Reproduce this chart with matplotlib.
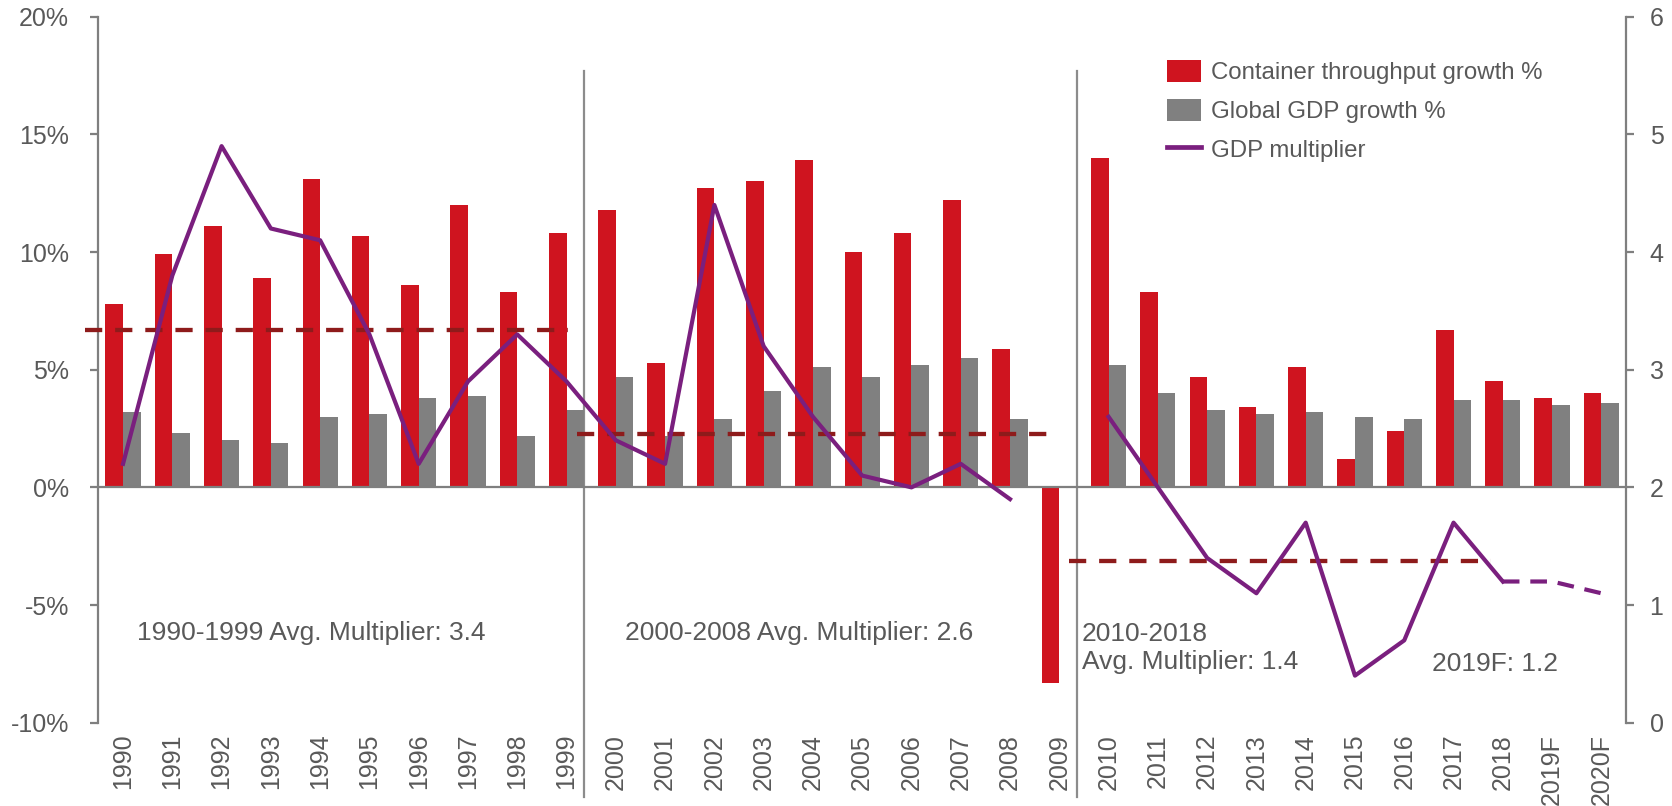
import numpy as np
import matplotlib
matplotlib.use("Agg")
import matplotlib.pyplot as plt
from matplotlib.patches import Patch
from matplotlib.lines import Line2D

plt.rcParams['font.family'] = ['Liberation Sans', 'DejaVu Sans']

years = ['1990', '1991', '1992', '1993', '1994', '1995', '1996', '1997', '1998', '1999',
         '2000', '2001', '2002', '2003', '2004', '2005', '2006', '2007', '2008', '2009',
         '2010', '2011', '2012', '2013', '2014', '2015', '2016', '2017', '2018', '2019F', '2020F']
container_growth = [7.8, 9.9, 11.1, 8.9, 13.1, 10.7, 8.6, 12.0, 8.3, 10.8,
                    11.8, 5.3, 12.7, 13.0, 13.9, 10.0, 10.8, 12.2, 5.9, -8.3,
                    14.0, 8.3, 4.7, 3.4, 5.1, 1.2, 2.4, 6.7, 4.5, 3.8, 4.0]
gdp_growth = [3.2, 2.3, 2.0, 1.9, 3.0, 3.1, 3.8, 3.9, 2.2, 3.3,
              4.7, 2.2, 2.9, 4.1, 5.1, 4.7, 5.2, 5.5, 2.9, 0.0,
              5.2, 4.0, 3.3, 3.1, 3.2, 3.0, 2.9, 3.7, 3.7, 3.5, 3.6]
multiplier = [2.2, 3.8, 4.9, 4.2, 4.1, 3.3, 2.2, 2.9, 3.3, 2.9,
              2.4, 2.2, 4.4, 3.2, 2.6, 2.1, 2.0, 2.2, 1.9, np.nan,
              2.6, 2.0, 1.4, 1.1, 1.7, 0.4, 0.7, 1.7, 1.2, 1.2, 1.1]
avg_multiplier = [3.34, 2.45, 1.37]
period_labels = ['1990-1999 Avg. Multiplier: 3.4', '2000-2008 Avg. Multiplier: 2.6',
                 '2010-2018\nAvg. Multiplier: 1.4', '2019F: 1.2']
legend_labels = ['Container throughput growth %', 'Global GDP growth %', 'GDP multiplier']

RED = '#CF141F'
GRAY = '#808080'
PURPLE = '#7A1F7E'
DARKRED = '#8E1B1B'
TXT = '#595959'
AX = '#7F7F7F'

W, H = 1672, 806
fig = plt.figure(figsize=(W / 100, H / 100), dpi=100)
ax = fig.add_axes([98.4 / W, 1 - 722.7 / H, (1626 - 98.4) / W, (722.7 - 16.7) / H])
ax2 = ax.twinx()

x = np.arange(len(years))
bw = 0.357
ax.bar(x - bw / 2, container_growth, width=bw, color=RED, zorder=2)
ax.bar(x + bw / 2, gdp_growth, width=bw, color=GRAY, zorder=2)

ax.set_xlim(-0.5, len(years) - 0.5)
ax.set_ylim(-10, 20)
ax.set_yticks([-10, -5, 0, 5, 10, 15, 20])
ax.set_yticklabels(['-10%', '-5%', '0%', '5%', '10%', '15%', '20%'])
ax.axhline(0, color=AX, lw=1.6, zorder=3)

ax.set_xticks(x)
ax.set_xticklabels(years, rotation=90, fontsize=18, color=TXT)
ax.tick_params(axis='x', length=0, pad=8)
ax.tick_params(axis='y', length=6, width=1.6, color=AX, labelsize=18, labelcolor=TXT, pad=15)

for s in ['top', 'bottom', 'right']:
    ax.spines[s].set_visible(False)
ax.spines['left'].set_color(AX)
ax.spines['left'].set_linewidth(1.6)

# separators
for sx in [9 + bw, 19 + bw]:
    ax.plot([sx, sx], [17.7, -13.15], color='#8C8C8C', lw=1.6, clip_on=False, zorder=1)

# secondary axis
ax2.set_ylim(0, 6)
ax2.set_yticks(range(0, 7))
ax2.tick_params(axis='y', length=6, width=1.6, color=AX, labelsize=18, labelcolor=TXT, pad=11)
for s in ['top', 'bottom', 'left']:
    ax2.spines[s].set_visible(False)
ax2.spines['right'].set_color(AX)
ax2.spines['right'].set_linewidth(1.6)

# average dashed lines
avg_spans = [(-0.77, 9.02), (9.21, 18.87), (19.19, 27.77)]
for (x0, x1), v in zip(avg_spans, avg_multiplier):
    ax2.plot([x0, x1], [v, v], color=DARKRED, lw=3.1, dashes=(4.0, 3.0), clip_on=False, zorder=4)

# multiplier line
m = np.array(multiplier)
ax2.plot(x[:29], m[:29], color=PURPLE, lw=3.0, zorder=5)
ax2.plot(x[28:], m[28:], color=PURPLE, lw=3.0, dashes=(4.0, 2.6), zorder=5)

# annotations
for (px, py), lab in zip([(137, 633), (625.4, 633), (1081.5, 648), (1431.6, 664)], period_labels):
    fig.text(px / W, 1 - py / H, lab, fontsize=19, color=TXT, ha='left', va='center', linespacing=1.2)

handles = [Patch(facecolor=RED), Patch(facecolor=GRAY), Line2D([], [], color=PURPLE, lw=3.4)]
leg = fig.legend(handles, legend_labels, loc='upper left', bbox_to_anchor=(1167 / W, 1 - 60 / H),
                 frameon=False, fontsize=17.3, labelcolor=TXT, handlelength=1.4, handleheight=1.05,
                 handletextpad=0.45, labelspacing=0.6, borderpad=0, borderaxespad=0)

fig.savefig('out.png', dpi=100)
